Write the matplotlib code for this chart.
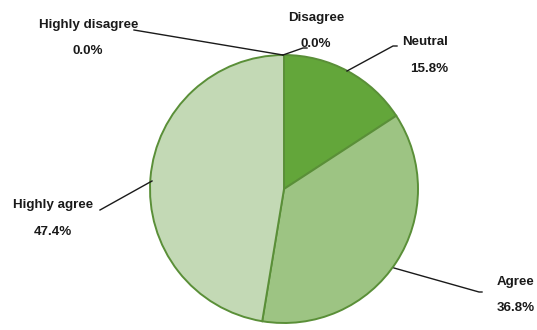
import matplotlib
matplotlib.use("Agg")
import matplotlib.pyplot as plt

categories = ["Highly disagree", "Disagree", "Neutral", "Agree", "Highly agree"]
values = [0.0, 0.0, 15.8, 36.8, 47.4]
pct_labels = ["0.0%", "0.0%", "15.8%", "36.8%", "47.4%"]
colors = ["#3f7a22", "#4f9030", "#63a63a", "#9dc483", "#c3d9b5"]

W, H = 537, 330
CX, CY, R = 284, 189, 134

fig = plt.figure(figsize=(W / 100, H / 100), dpi=100)
ax = fig.add_axes([0, 0, 1, 1])

ax.pie(values, colors=colors, startangle=90, counterclock=False,
       wedgeprops=dict(edgecolor="#5a8f38", linewidth=1.4), radius=1.0)
ax.set_xlim(-CX / R, (W - CX) / R)
ax.set_ylim(-(H - CY) / R, CY / R)
ax.set_aspect("auto")
ax.axis("off")


def d(px, py):
    return ((px - CX) / R, (CY - py) / R)


# label layout in pixel coords: (name xy, pct xy, line points)
layout = {
    "Highly disagree": ((89, 25), (88, 51), [(134, 30), (283, 55)]),
    "Disagree": ((316, 18), (316, 44), [(283, 55), (303, 48), (307, 48)]),
    "Neutral": ((425, 42), (429, 69), [(347, 71), (393, 46), (397, 46)]),
    "Agree": ((516, 282), (516, 308), [(394, 268), (479, 292), (482, 292)]),
    "Highly agree": ((53, 205), (53, 232), [(100, 210), (152, 181)]),
}

font = dict(family="Liberation Sans", fontweight="bold", fontsize=9.6, color="#1a1a1a",
            ha="center", va="center")
for cat, pct in zip(categories, pct_labels):
    (nx, ny), (px_, py_), pts = layout[cat]
    ax.text(*d(nx, ny), cat, **font)
    ax.text(*d(px_, py_), pct, **font)
    xs = [d(x, y)[0] for x, y in pts]
    ys = [d(x, y)[1] for x, y in pts]
    ax.plot(xs, ys, color="#1a1a1a", linewidth=1.0, clip_on=False)

fig.savefig("out.png", dpi=100, facecolor="white")
